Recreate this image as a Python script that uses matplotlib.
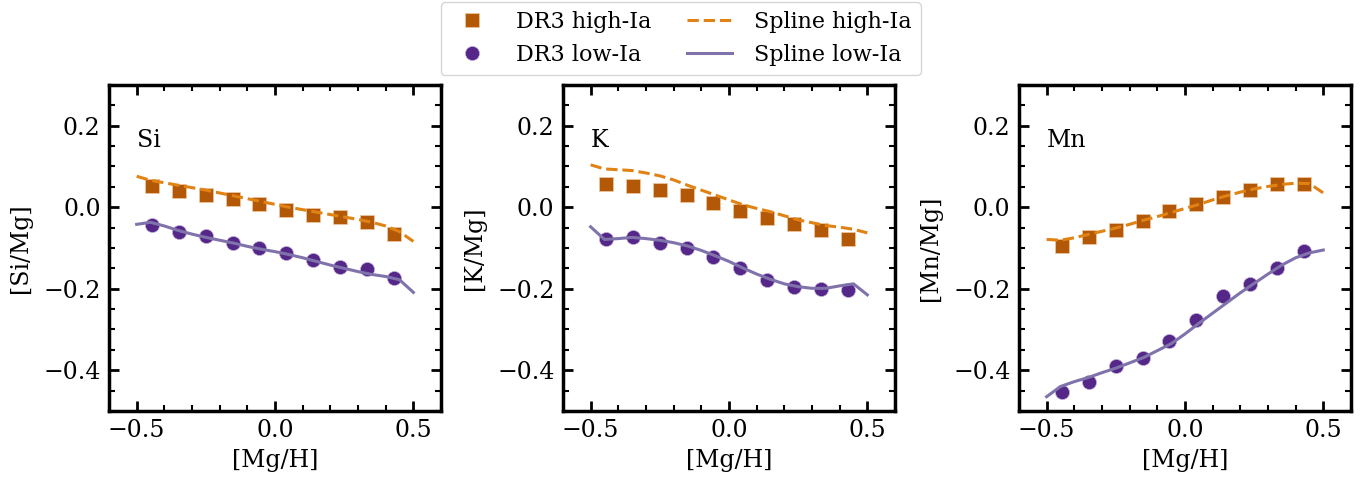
import matplotlib
matplotlib.use("Agg")
import matplotlib.pyplot as plt
from matplotlib.ticker import MultipleLocator

plt.rcParams['font.family'] = ['DejaVu Serif']

elements = ["Si", "K", "Mn"]

mgh = [-0.445, -0.348, -0.250, -0.153, -0.057, 0.040, 0.137, 0.234, 0.333, 0.430]

high_si = [0.053, 0.041, 0.031, 0.020, 0.007, -0.007, -0.018, -0.024, -0.037, -0.065]
low_si = [-0.044, -0.062, -0.071, -0.089, -0.101, -0.113, -0.129, -0.146, -0.152, -0.173]
high_k = [0.057, 0.053, 0.043, 0.029, 0.011, -0.010, -0.026, -0.041, -0.057, -0.077]
low_k = [-0.077, -0.073, -0.089, -0.101, -0.122, -0.150, -0.179, -0.195, -0.201, -0.202]
high_mn = [-0.095, -0.072, -0.056, -0.034, -0.010, 0.007, 0.025, 0.043, 0.057, 0.058]
low_mn = [-0.454, -0.428, -0.390, -0.370, -0.328, -0.276, -0.219, -0.189, -0.148, -0.107]

spline_x = [-0.5, -0.45, -0.4, -0.35, -0.3, -0.25, -0.2, -0.15, -0.1, -0.05, 0.0,
            0.05, 0.1, 0.15, 0.2, 0.25, 0.3, 0.35, 0.4, 0.45, 0.5]
spl_high_si = [0.076, 0.066, 0.060, 0.054, 0.048, 0.042, 0.035, 0.028, 0.021, 0.014, 0.007,
               0.000, -0.006, -0.012, -0.018, -0.024, -0.030, -0.037, -0.046, -0.060, -0.084]
spl_low_si = [-0.042, -0.037, -0.046, -0.057, -0.066, -0.074, -0.081, -0.088, -0.096, -0.103, -0.109,
              -0.116, -0.124, -0.133, -0.142, -0.150, -0.158, -0.165, -0.170, -0.178, -0.209]
spl_high_k = [0.104, 0.094, 0.092, 0.090, 0.084, 0.077, 0.067, 0.054, 0.042, 0.030, 0.018,
              0.006, -0.003, -0.011, -0.021, -0.031, -0.038, -0.045, -0.049, -0.054, -0.063]
spl_low_k = [-0.048, -0.079, -0.077, -0.074, -0.077, -0.081, -0.087, -0.095, -0.106, -0.119, -0.133,
             -0.149, -0.164, -0.177, -0.188, -0.195, -0.199, -0.199, -0.193, -0.188, -0.215]
spl_high_mn = [-0.079, -0.081, -0.075, -0.067, -0.059, -0.051, -0.042, -0.032, -0.023, -0.013, -0.003,
               0.007, 0.018, 0.028, 0.037, 0.045, 0.051, 0.056, 0.059, 0.058, 0.035]
spl_low_mn = [-0.465, -0.440, -0.428, -0.418, -0.406, -0.395, -0.382, -0.369, -0.352, -0.335, -0.311,
              -0.285, -0.260, -0.235, -0.210, -0.187, -0.164, -0.142, -0.124, -0.112, -0.105]

highs = [high_si, high_k, high_mn]
lows = [low_si, low_k, low_mn]
spl_highs = [spl_high_si, spl_high_k, spl_high_mn]
spl_lows = [spl_low_si, spl_low_k, spl_low_mn]

c_high_pt = "#b35806"
c_low_pt = "#542788"
c_high_ln = "#e08214"
c_low_ln = "#8073ac"

fig = plt.figure(figsize=(13.71, 4.79), dpi=100)
lefts = [0.0795, 0.4106, 0.7432]
w, h, b = 0.2422, 0.6806, 0.142

handles = None
for i, el in enumerate(elements):
    ax = fig.add_axes([lefts[i], b, w, h])
    hs = ax.plot(mgh, highs[i], 's', color=c_high_pt, ms=9.8, mec='#f0c9a0', mew=0.5,
                 label="DR3 high-Ia", zorder=3)[0]
    lc = ax.plot(mgh, lows[i], 'o', color=c_low_pt, ms=10.2, mec='#c9b8e0', mew=0.5,
                 label="DR3 low-Ia", zorder=3)[0]
    sh = ax.plot(spline_x, spl_highs[i], '--', color=c_high_ln, lw=2.2, label="Spline high-Ia", zorder=4)[0]
    sl = ax.plot(spline_x, spl_lows[i], '-', color=c_low_ln, lw=2.2, label="Spline low-Ia", zorder=4)[0]
    handles = [hs, lc, sh, sl]
    ax.set_xlim(-0.6, 0.6)
    ax.set_ylim(-0.5, 0.3)
    ax.xaxis.set_major_locator(MultipleLocator(0.5))
    ax.xaxis.set_minor_locator(MultipleLocator(0.1))
    ax.yaxis.set_major_locator(MultipleLocator(0.2))
    ax.yaxis.set_minor_locator(MultipleLocator(0.05))
    ax.tick_params(which='both', direction='in', top=True, right=True, labelsize=17, pad=6)
    ax.tick_params(which='major', length=7, width=2)
    ax.tick_params(which='minor', length=4, width=1.5)
    for s in ax.spines.values():
        s.set_linewidth(2.5)
    ax.set_xlabel("[Mg/H]", fontsize=17, labelpad=5)
    ax.set_ylabel(f"[{el}/Mg]", fontsize=17, labelpad=8)
    ax.text(0.085, 0.83, el, transform=ax.transAxes, fontsize=17, va='center', ha='left')

fig.legend(handles, [hh.get_label() for hh in handles], loc='upper center',
           bbox_to_anchor=(0.4965, 1.0), ncol=2, fontsize=16, frameon=True,
           columnspacing=1.6, handlelength=2.0, handletextpad=1.0, borderaxespad=0.1)

fig.savefig("out.png", dpi=100)
